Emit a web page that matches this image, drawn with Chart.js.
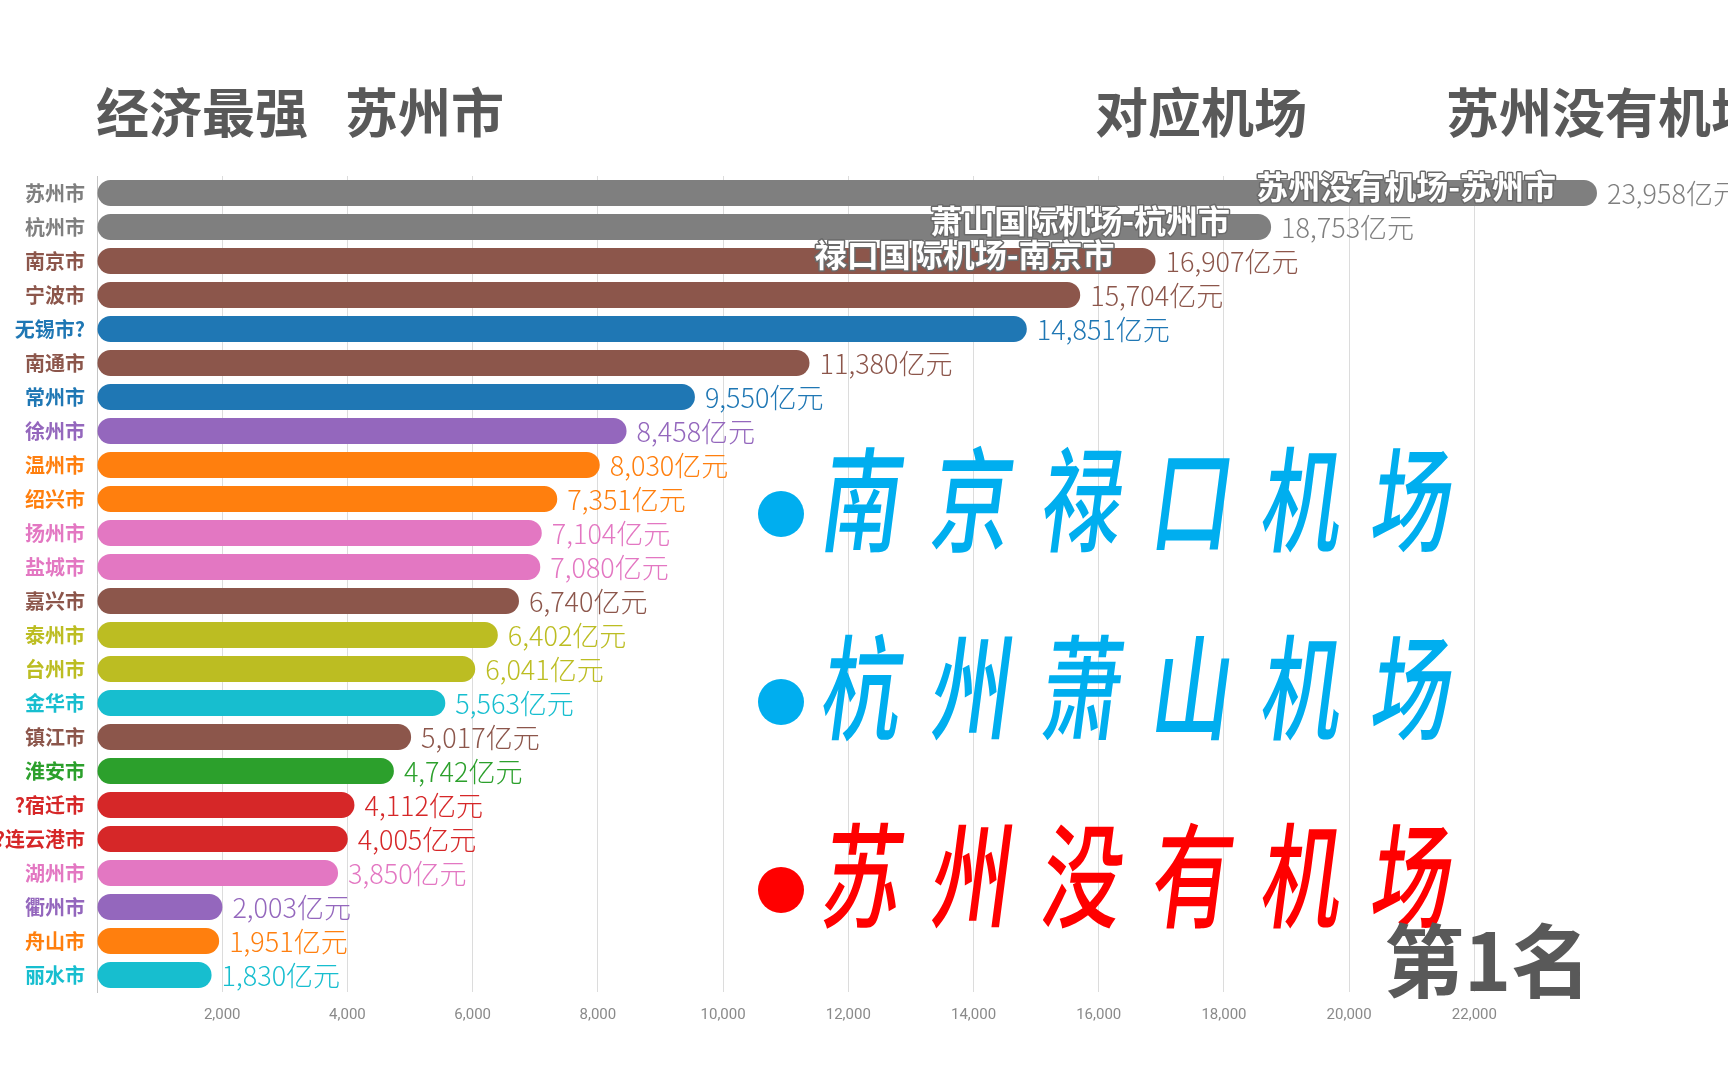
<!DOCTYPE html>
<html>
<head>
<meta charset="utf-8">
<script src="https://cdn.jsdelivr.net/npm/chart.js@4.4.1/dist/chart.umd.min.js"></script>
<style>
    body { margin: 0; background: #fff; }
    #wrap { width: 1728px; height: 1080px; position: relative; }
</style>
</head>
<body>
<div id="wrap"><canvas id="gdpChart"></canvas></div>
<script>
// data
const cities = ['苏州市', '杭州市', '南京市', '宁波市', '无锡市?', '南通市', '常州市', '徐州市',
    '温州市', '绍兴市', '扬州市', '盐城市', '嘉兴市', '泰州市', '台州市', '金华市',
    '镇江市', '淮安市', '?宿迁市', '?连云港市', '湖州市', '衢州市', '舟山市', '丽水市'];
const gdp = [23958, 18753, 16907, 15704, 14851, 11380, 9550, 8458,
    8030, 7351, 7104, 7080, 6740, 6402, 6041, 5563,
    5017, 4742, 4112, 4005, 3850, 2003, 1951, 1830];
const airports = ['苏州没有机场-苏州市', '萧山国际机场-杭州市', '禄口国际机场-南京市'];
const xTicks = [0, 2000, 4000, 6000, 8000, 10000, 12000, 14000, 16000, 18000, 20000, 22000];
const headings = ['经济最强', '苏州市', '对应机场', '苏州没有机场'];
const highlights = ['南京禄口机场', '杭州萧山机场', '苏州没有机场'];
const rankText = '第1名';

// colours per bar
const barColors = ['#7f7f7f', '#7f7f7f', '#8c564b', '#8c564b', '#1f77b4', '#8c564b', '#1f77b4', '#9467bd',
    '#ff7f0e', '#ff7f0e', '#e377c2', '#e377c2', '#8c564b', '#bcbd22', '#bcbd22', '#17becf',
    '#8c564b', '#2ca02c', '#d62728', '#d62728', '#e377c2', '#9467bd', '#ff7f0e', '#17becf'];
const highlightColors = ['#00aeef', '#00aeef', '#ff0000'];

const CJK = '"Noto Sans CJK SC", "Noto Sans", sans-serif';

// headings, big highlight text, rank
const overlayPlugin = {
    id: 'overlay',
    afterDraw(chart) {
        const ctx = chart.ctx;
        ctx.save();
        ctx.fillStyle = '#595959';
        ctx.textBaseline = 'middle';
        ctx.textAlign = 'left';
        ctx.font = 'bold 53px ' + CJK;
        ctx.fillText(headings[0], 96, 113);
        ctx.fillText(headings[1], 345, 113);
        ctx.fillText(headings[2], 1095, 113);
        ctx.fillText(headings[3], 1446, 113);

        // highlight lines
        const rows = [496, 684, 872];
        highlights.forEach((txt, i) => {
            const cy = rows[i];
            ctx.fillStyle = highlightColors[i];
            ctx.beginPath();
            ctx.arc(781, cy + 18, 23, 0, Math.PI * 2);
            ctx.fill();
            ctx.font = '500 114px ' + CJK;
            ctx.textAlign = 'center';
            [...txt].forEach((ch, j) => {
                const cx = 864 + j * 110;
                ctx.save();
                ctx.translate(cx, cy);
                ctx.transform(0.7, 0, -0.13, 1, 0, 0);
                ctx.fillText(ch, 0, 4);
                ctx.restore();
            });
        });

        ctx.fillStyle = '#595959';
        ctx.textAlign = 'left';
        ctx.font = 'bold 80px ' + CJK;
        ctx.fillText(rankText, 1384, 961);
        ctx.restore();
    }
};

// value labels and airport names on bars
const barLabelPlugin = {
    id: 'barLabels',
    afterDatasetsDraw(chart) {
        const ctx = chart.ctx;
        const meta = chart.getDatasetMeta(0);
        ctx.save();
        ctx.textBaseline = 'middle';
        meta.data.forEach((bar, i) => {
            ctx.textAlign = 'left';
            ctx.font = '300 27px ' + CJK;
            ctx.fillStyle = barColors[i];
            ctx.fillText(gdp[i].toLocaleString('en-US') + '亿元', bar.x + 10, bar.y + 1);
            if (airports[i]) {
                ctx.textAlign = 'right';
                ctx.font = 'bold 32px ' + CJK;
                ctx.lineWidth = 3;
                ctx.strokeStyle = '#6a6a6a';
                ctx.lineJoin = 'round';
                ctx.strokeText(airports[i], bar.x - 41, bar.y - 6);
                ctx.fillStyle = '#ffffff';
                ctx.fillText(airports[i], bar.x - 41, bar.y - 6);
            }
        });
        ctx.restore();
    }
};

new Chart(document.getElementById('gdpChart'), {
    type: 'bar',
    data: {
        labels: cities,
        datasets: [{
            data: gdp,
            backgroundColor: barColors,
            borderRadius: 13,
            borderSkipped: false,
            barPercentage: 0.77,
            categoryPercentage: 1,
            clip: false
        }]
    },
    options: {
        indexAxis: 'y',
        responsive: true,
        maintainAspectRatio: false,
        animation: false,
        layout: { padding: { top: 176, right: 191, bottom: 0, left: 0 } },
        plugins: {
            legend: { display: false },
            tooltip: { enabled: false }
        },
        scales: {
            x: {
                min: 0,
                max: 23000,
                afterFit: scale => { scale.height = 88; },
                afterBuildTicks: scale => { scale.ticks = xTicks.map(v => ({ value: v })); },
                grid: { color: '#dcdcdc', drawTicks: false },
                border: { display: false },
                ticks: {
                    padding: 14,
                    color: '#8a8a8a',
                    font: { size: 15, family: 'Roboto, sans-serif' },
                    callback: v => v === 0 ? '' : v.toLocaleString('en-US')
                }
            },
            y: {
                afterFit: scale => { scale.width = 97; },
                grid: { display: false, drawTicks: false },
                border: { display: true, color: '#c4c4c4' },
                ticks: {
                    padding: 12,
                    color: ctx => barColors[ctx.index],
                    font: { size: 20, weight: 'bold', family: CJK }
                }
            }
        }
    },
    plugins: [barLabelPlugin, overlayPlugin]
});
</script>
</body>
</html>
